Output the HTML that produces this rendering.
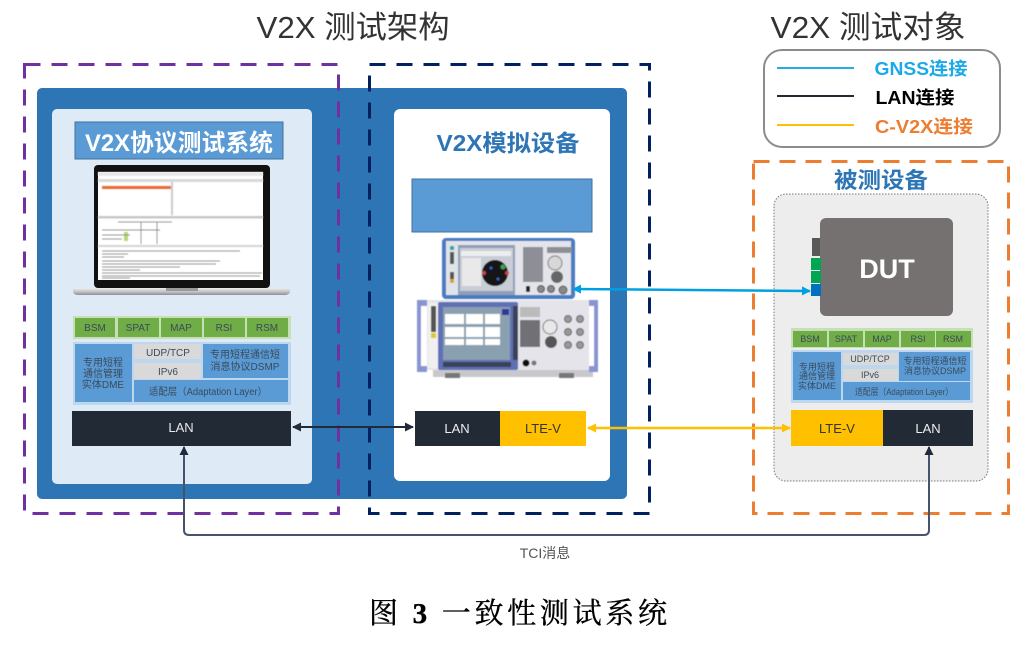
<!DOCTYPE html>
<html lang="zh"><head><meta charset="utf-8"><title>V2X</title>
<style>
html,body{margin:0;padding:0;background:#fff}
svg{display:block;filter:blur(.35px)}
text{font-family:"Liberation Sans","Noto Sans CJK SC",sans-serif;text-anchor:middle}
.b{font-weight:700}
.sm{font-size:10px;fill:#3a4a5a}
.st{font-size:9px;fill:#3a4a5a}
</style></head><body>
<svg xmlns="http://www.w3.org/2000/svg" width="1026" height="646" viewBox="0 0 1026 646">
<defs>
<marker id="k" markerWidth="11" markerHeight="11" refX="8" refY="5" orient="auto-start-reverse" markerUnits="userSpaceOnUse"><path d="M0 .5L9 5L0 9.500z" fill="#222b3a"/></marker>
<marker id="y" markerWidth="11" markerHeight="11" refX="8" refY="5" orient="auto-start-reverse" markerUnits="userSpaceOnUse"><path d="M0 .5L9 5L0 9.500z" fill="#ffc000"/></marker>
<marker id="c" markerWidth="11" markerHeight="11" refX="8" refY="5" orient="auto-start-reverse" markerUnits="userSpaceOnUse"><path d="M0 .5L9 5L0 9.500z" fill="#00a0e0"/></marker>
<filter id="soft" x="-5%" y="-5%" width="110%" height="110%"><feGaussianBlur stdDeviation=".6"/></filter>
<linearGradient id="base" x1="0" y1="0" x2="0" y2="1"><stop offset="0" stop-color="#eeeeee"/><stop offset=".6" stop-color="#bdbdc0"/><stop offset="1" stop-color="#8e8e92"/></linearGradient>
</defs>
<rect width="1026" height="646" fill="#fff"/>

<text x="353" y="38" font-size="31" fill="#333" textLength="193" lengthAdjust="spacingAndGlyphs">V2X 测试架构</text>
<text x="868" y="38" font-size="31" fill="#333" textLength="195" lengthAdjust="spacingAndGlyphs">V2X 测试对象</text>

<!-- main blue panel -->
<rect x="37" y="88" width="590" height="411" rx="5" fill="#2e75b6"/>
<rect x="52" y="109" width="260" height="375" rx="5" fill="#deeaf6"/>
<rect x="394" y="109" width="216" height="372" rx="6" fill="#fff"/>

<!-- dashed frames -->
<rect x="24.500" y="64.500" width="314" height="449" fill="none" stroke="#7030a0" stroke-width="3" stroke-dasharray="16 11"/>
<rect x="369.500" y="64.500" width="280" height="449" fill="none" stroke="#002060" stroke-width="3" stroke-dasharray="16 11"/>
<rect x="753.500" y="161.500" width="255" height="352" fill="none" stroke="#ed7d31" stroke-width="3" stroke-dasharray="16 10"/>

<!-- left title -->
<rect x="75" y="122" width="208" height="37" fill="#5b9bd5" stroke="#41719c"/>
<text x="179" y="151" font-size="24" fill="#fff" class="b" textLength="188" lengthAdjust="spacingAndGlyphs">V2X协议测试系统</text>

<!-- laptop -->
<rect x="94" y="165" width="176" height="123" rx="4" fill="#111"/>
<rect x="98" y="172" width="165" height="108" fill="#fff"/>
<g filter="url(#soft)">
<rect x="98" y="172" width="165" height="4" fill="#e8e8e8"/>
<rect x="98" y="179" width="165" height="3" fill="#d8d8d8"/>
<rect x="102" y="186" width="69" height="3" fill="#ed6a35"/>
<rect x="171" y="182" width="2" height="33" fill="#ccc"/>
<rect x="98" y="216" width="165" height="2.500" fill="#c8c8c8"/>
<rect x="98" y="245" width="165" height="2" fill="#d4d4d4"/>
<rect x="124" y="232" width="4" height="9" fill="#b8d878"/>
<g stroke="#777" stroke-width=".7">
<path d="M118 222H172M102 230H160M102 235H130M102 239H122M141 222V244M157 222V244"/>
<path d="M102 251H240M102 254H128M102 257H124M102 261H220M102 264H216M102 267H180M102 270H140M102 273H262M102 276H260M102 278H130"/>
</g>
</g>
<path d="M73 288H290V291Q290 295 284 295H79Q73 295 73 291Z" fill="url(#base)"/>
<rect x="166" y="288" width="32" height="3" fill="#9a9a9a"/>

<!-- left stack -->
<rect x="73" y="316" width="218" height="23" fill="#c5e0b4"/>
<g fill="#70ad47">
<rect x="75" y="318" width="40" height="19"/><rect x="118" y="318" width="41" height="19"/><rect x="161" y="318" width="41" height="19"/><rect x="204" y="318" width="41" height="19"/><rect x="247" y="318" width="41" height="19"/>
</g>
<text class="sm" x="95" y="331">BSM</text><text class="sm" x="138" y="331">SPAT</text><text class="sm" x="181" y="331">MAP</text><text class="sm" x="224" y="331">RSI</text><text class="sm" x="267" y="331">RSM</text>
<rect x="73" y="342" width="218" height="63" fill="#bdd7ee"/>
<rect x="75" y="344" width="57" height="58" fill="#5b9bd5"/>
<rect x="134" y="344" width="67" height="15" fill="#d9d9d9"/>
<rect x="134" y="363" width="67" height="16" fill="#d9d9d9"/>
<rect x="203" y="344" width="85" height="34" fill="#5b9bd5"/>
<rect x="134" y="380" width="154" height="22" fill="#5b9bd5"/>
<text class="sm" x="103" y="366">专用短程</text><text class="sm" x="103" y="377">通信管理</text><text class="sm" x="103" y="388">实体DME</text>
<text class="sm" x="168" y="356">UDP/TCP</text><text class="sm" x="168" y="375">IPv6</text>
<text class="sm" x="245" y="358">专用短程通信短</text><text class="sm" x="245" y="370">消息协议DSMP</text>
<text class="sm" x="208" y="395" textLength="118" lengthAdjust="spacingAndGlyphs">适配层（Adaptation Layer）</text>
<rect x="72" y="411" width="219" height="35" fill="#222a35"/>
<text x="181" y="432" font-size="13" fill="#e8e8e8">LAN</text>

<!-- middle -->
<text x="508" y="151" font-size="23" fill="#2e75b6" class="b" textLength="143" lengthAdjust="spacingAndGlyphs">V2X模拟设备</text>
<rect x="412" y="179" width="180" height="53" fill="#5b9bd5" stroke="#41719c"/>

<!-- instrument 1 -->
<g filter="url(#soft)">
<rect x="442" y="238" width="133" height="61" rx="4" fill="#4a7cc0"/>
<rect x="446" y="241" width="125" height="54" fill="#e4e5ea"/>
<rect x="447" y="243" width="10" height="51" fill="#dfe4ea"/>
<rect x="450" y="246" width="4" height="4" fill="#2aa6a6"/><rect x="450" y="252" width="4" height="12" fill="#555"/><rect x="450" y="272" width="4" height="7" fill="#555"/><rect x="450" y="279" width="4" height="4" fill="#e0a020"/>
<rect x="458" y="245" width="57" height="50" fill="#8f9fb8"/>
<rect x="460" y="248" width="53" height="43" fill="#c9ced6"/>
<rect x="461" y="251" width="50" height="5" fill="#eee"/>
<rect x="462" y="258" width="19" height="28" fill="#e9e9e9"/>
<circle cx="495" cy="273" r="13" fill="#151515"/>
<circle cx="491" cy="268" r="1.500" fill="#3060d0"/><circle cx="503" cy="267" r="2.500" fill="#40a050"/><circle cx="498" cy="279" r="1.500" fill="#3060d0"/><circle cx="484" cy="273" r="2" fill="#d04050"/><circle cx="507" cy="273" r="2" fill="#d04050"/>
<rect x="523" y="247" width="20" height="35" fill="#8e8e96"/>
<rect x="547" y="247" width="25" height="6" fill="#8e8e96"/>
<circle cx="555" cy="263" r="7" fill="#d8d8d8" stroke="#777"/>
<circle cx="557" cy="277" r="6" fill="#666"/>
<rect x="526" y="286" width="4" height="6" fill="#222"/>
<circle cx="541" cy="289" r="3.500" fill="#888" stroke="#555"/><circle cx="551" cy="289" r="3.500" fill="#888" stroke="#555"/><circle cx="563" cy="290" r="4" fill="#888" stroke="#555"/>
</g>

<!-- instrument 2 -->
<g filter="url(#soft)">
<rect x="433" y="368" width="160" height="9" fill="#c8c8cc"/>
<rect x="445" y="373" width="15" height="5" fill="#777"/><rect x="559" y="373" width="15" height="5" fill="#777"/>
<rect x="417" y="300" width="181" height="70" fill="#e4e4ea"/>
<rect x="417" y="300" width="10" height="72" fill="#8a94d0"/><rect x="421" y="306" width="6" height="60" fill="#fff"/>
<rect x="589" y="300" width="9" height="72" fill="#8a94d0"/><rect x="589" y="306" width="5" height="60" fill="#fff"/>
<rect x="428" y="303" width="10" height="65" fill="#f0f0f0"/>
<rect x="431" y="306" width="5" height="26" fill="#555"/><rect x="431" y="333" width="5" height="5" fill="#e0c820"/>
<rect x="438" y="302" width="80" height="68" rx="2" fill="#5f6fb5"/>
<rect x="443" y="307" width="67" height="53" fill="#8a9fb0"/>
<g fill="#fff"><rect x="445" y="314" width="19" height="10"/><rect x="466" y="314" width="17" height="10"/><rect x="485" y="314" width="15" height="10"/><rect x="445" y="327" width="19" height="10"/><rect x="466" y="327" width="17" height="10"/><rect x="485" y="327" width="15" height="10"/><rect x="445" y="339" width="19" height="6"/><rect x="466" y="339" width="17" height="6"/><rect x="485" y="339" width="15" height="6"/></g>
<rect x="502" y="309" width="7" height="6" fill="#3030a0"/>
<rect x="513" y="306" width="5" height="54" fill="#3a4258"/>
<rect x="443" y="362" width="68" height="5" fill="#3a4258"/>
<rect x="520" y="307" width="20" height="10" fill="#bbb"/>
<rect x="520" y="320" width="20" height="27" fill="#6f6f75"/>
<circle cx="550" cy="327" r="7" fill="#e8e8e8" stroke="#777"/>
<circle cx="551" cy="342" r="6" fill="#555"/>
<circle cx="526" cy="363" r="3.500" fill="#111"/><circle cx="534" cy="363" r="2.500" fill="#777"/>
<g fill="#999" stroke="#666"><circle cx="568" cy="319" r="3.500"/><circle cx="580" cy="319" r="3.500"/><circle cx="568" cy="332" r="3.500"/><circle cx="580" cy="332" r="3.500"/><circle cx="568" cy="345" r="3.500"/><circle cx="580" cy="345" r="3.500"/></g>
</g>

<rect x="415" y="411" width="85" height="35" fill="#222a35"/>
<rect x="500" y="411" width="86" height="35" fill="#ffc000"/>
<text x="457" y="433" font-size="13" fill="#eee">LAN</text>
<text x="543" y="433" font-size="13" fill="#333">LTE-V</text>

<!-- legend -->
<rect x="764" y="50" width="236" height="97" rx="18" fill="#fff" stroke="#8c8c8c" stroke-width="2"/>
<line x1="777" y1="68" x2="854" y2="68" stroke="#29abe2" stroke-width="2"/>
<line x1="777" y1="96" x2="854" y2="96" stroke="#222a35" stroke-width="2"/>
<line x1="777" y1="125" x2="854" y2="125" stroke="#ffc000" stroke-width="2"/>
<text x="921" y="75" font-size="18" class="b" fill="#1ba9e8" textLength="93" lengthAdjust="spacingAndGlyphs">GNSS连接</text>
<text x="915" y="104" font-size="18" class="b" fill="#000" textLength="79" lengthAdjust="spacingAndGlyphs">LAN连接</text>
<text x="924" y="133" font-size="18" class="b" fill="#ed7d31" textLength="98" lengthAdjust="spacingAndGlyphs">C-V2X连接</text>

<!-- DUT side -->
<text x="881" y="188" font-size="22" class="b" fill="#2e75b6" textLength="94" lengthAdjust="spacingAndGlyphs">被测设备</text>
<rect x="774" y="194" width="214" height="287" rx="12" fill="#ededed" stroke="#777" stroke-width="1" stroke-dasharray="1.500 1.500"/>
<rect x="820" y="218" width="133" height="98" rx="6" fill="#767171"/>
<text x="887" y="278" font-size="27" class="b" fill="#fff">DUT</text>
<rect x="812" y="238" width="8" height="18" fill="#595959"/>
<rect x="811" y="258" width="10" height="12" fill="#00a651"/>
<rect x="811" y="271" width="10" height="12" fill="#00a651"/>
<rect x="811" y="284" width="10" height="12" fill="#0070c0"/>

<rect x="791" y="328" width="182" height="20" fill="#c5e0b4"/>
<g fill="#70ad47">
<rect x="793" y="331" width="34" height="16"/><rect x="829" y="331" width="34" height="16"/><rect x="865" y="331" width="34" height="16"/><rect x="901" y="331" width="34" height="16"/><rect x="936" y="331" width="35" height="16"/>
</g>
<text class="st" x="810" y="342">BSM</text><text class="st" x="846" y="342">SPAT</text><text class="st" x="882" y="342">MAP</text><text class="st" x="918" y="342">RSI</text><text class="st" x="953" y="342">RSM</text>
<rect x="791" y="350" width="182" height="53" fill="#bdd7ee"/>
<rect x="793" y="352" width="48" height="48" fill="#5b9bd5"/>
<rect x="843" y="353" width="55" height="12" fill="#d9d9d9"/>
<rect x="843" y="369" width="55" height="12" fill="#d9d9d9"/>
<rect x="899" y="352" width="71" height="29" fill="#5b9bd5"/>
<rect x="843" y="382" width="127" height="18" fill="#5b9bd5"/>
<text class="st" x="817" y="370">专用短程</text><text class="st" x="817" y="379">通信管理</text><text class="st" x="817" y="389">实体DME</text>
<text class="st" x="870" y="362">UDP/TCP</text><text class="st" x="870" y="378">IPv6</text>
<text class="st" x="935" y="364">专用短程通信短</text><text class="st" x="935" y="374">消息协议DSMP</text>
<text class="st" x="904" y="395" textLength="98" lengthAdjust="spacingAndGlyphs">适配层（Adaptation Layer）</text>
<rect x="791" y="410" width="92" height="36" fill="#ffc000"/>
<rect x="883" y="410" width="90" height="36" fill="#222a35"/>
<text x="837" y="433" font-size="13" fill="#333">LTE-V</text>
<text x="928" y="433" font-size="13" fill="#eee">LAN</text>

<!-- connectors -->
<path d="M573 289L810 291" fill="none" stroke="#00a0e0" stroke-width="2.500" marker-start="url(#c)" marker-end="url(#c)"/>
<path d="M293 427H413" fill="none" stroke="#222a35" stroke-width="2" marker-start="url(#k)" marker-end="url(#k)"/>
<path d="M588 428H790" fill="none" stroke="#ffc000" stroke-width="2.500" marker-start="url(#y)" marker-end="url(#y)"/>
<path d="M184 447V530Q184 535 189 535H924Q929 535 929 530V447" fill="none" stroke="#44546a" stroke-width="2" marker-start="url(#k)" marker-end="url(#k)"/>

<text x="545" y="558" font-size="14" fill="#555">TCI消息</text>
<text x="518" y="623" font-size="29" fill="#000" stroke="#000" stroke-width=".35" style="font-family:'Liberation Serif','Noto Serif CJK SC',serif" textLength="298">图 <tspan font-weight="700">3</tspan>  一致性测试系统</text>
</svg>
</body></html>
